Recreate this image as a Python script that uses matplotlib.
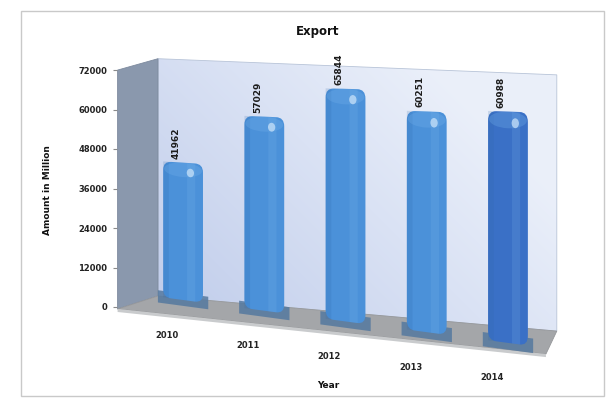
import numpy as np
import matplotlib
matplotlib.use("Agg")
import matplotlib.pyplot as plt
import matplotlib.transforms as mtransforms
from matplotlib.patches import FancyBboxPatch, Rectangle, Ellipse, Polygon

years = ["2010", "2011", "2012", "2013", "2014"]
amounts = [41962, 57029, 65844, 60251, 60988]
y_ticks = [0, 12000, 24000, 36000, 48000, 60000, 72000]

plt.rcParams["font.family"] = ["DejaVu Sans"]

W, H = 613, 399
X0, Y0 = 137.6, 105.0          # pivot of the bar plane, in pixels
XMIN, XMAX, YMAX = -0.56, 4.35, 72000


class Tilt(mtransforms.Transform):
    """Fake 3D: slopes the floor down to the right and lets columns grow with x."""
    input_dims = 2
    output_dims = 2

    def __init__(self, kx, ky, slope, grow):
        super().__init__()
        self.kx, self.ky, self.slope, self.grow = kx, ky, slope, grow

    def transform_non_affine(self, values):
        v = np.asarray(values, dtype=float)
        dx = v[:, 0] - X0
        dy = v[:, 1] - Y0
        out = np.empty_like(v)
        out[:, 0] = X0 + dx * self.kx
        out[:, 1] = Y0 + dy * self.ky * (1 + self.grow * dx) - self.slope * dx
        return out


fig = plt.figure(figsize=(W / 100, H / 100), dpi=100)
fig.patch.set_facecolor("white")

# pixel canvas for walls / floor / frame
bg = fig.add_axes([0, 0, 1, 1], zorder=0)
bg.set_xlim(0, W)
bg.set_ylim(0, H)
bg.axis("off")

ax = fig.add_axes([X0 / W, Y0 / H, 398.8 / W, 230.4 / H], zorder=1)
ax.set_xlim(XMIN, XMAX)
ax.set_ylim(0, YMAX)
ax.axis("off")

bar_tr = ax.transData + Tilt(1.0, 1.0, 0.132, 0.0005)
back_tr = ax.transData + Tilt(1.0, 1.03, 0.088, 0.0002) + mtransforms.Affine2D().translate(20.4, -2)
front_tr = ax.transData + Tilt(1.074, 1.037, 0.113, 0.0003) + mtransforms.Affine2D().translate(-20, -15)

# outer frame
bg.add_patch(Rectangle((21, 3), 583, 385, fill=False, ec="#c9c9c9", lw=1.0))

# back wall with a soft gradient
wall = back_tr.transform([[XMIN, 0], [XMAX, 0], [XMAX, YMAX], [XMIN, YMAX]])
gx, gy = np.meshgrid(np.linspace(0, 1, W), np.linspace(0, 1, H))
t = np.clip(0.75 * (gx - 0.25) / 0.65 + 0.45 * (gy - 0.2) / 0.6, 0, 1)[..., None]
c0 = np.array([0.75, 0.80, 0.92])
c1 = np.array([0.92, 0.94, 0.98])
img = bg.imshow(c0 * (1 - t) + c1 * t, extent=[0, W, 0, H], origin="lower",
                aspect="auto", zorder=1)
wall_patch = Polygon(wall, closed=True, fc="none", ec="#b8c4d8", lw=0.6, zorder=2)
bg.add_patch(wall_patch)
img.set_clip_path(wall_patch)

# left side wall
side = np.vstack([front_tr.transform([[XMIN, 0], [XMIN, YMAX]]),
                  back_tr.transform([[XMIN, YMAX], [XMIN, 0]])])
bg.add_patch(Polygon(side, closed=True, fc="#8a98ad", ec="#7d8a9e", lw=0.6, zorder=2))

# floor
floor = np.vstack([back_tr.transform([[XMIN, 0], [XMAX, 0]]),
                   front_tr.transform([[XMAX, 0], [XMIN, 0]])])
bg.add_patch(Polygon(floor, closed=True, fc="#a4a6a9", ec="#96989b", lw=0.6, zorder=2))
edge = front_tr.transform([[XMIN, 0], [XMAX, 0]])
bg.add_patch(Polygon(np.vstack([edge, edge[::-1] - [0, 3]]), closed=True,
                     fc="#c9cbcd", ec="none", zorder=2))

# columns
bw = 0.49
rad = 0.1
asp = (YMAX / 230.4) * 81.22
colors = ["#4b91d9", "#4b91d9", "#4b91d9", "#4b91d9", "#3a70c6"]
for i, v in enumerate(amounts):
    col = colors[i]
    plinth = Rectangle((i - 0.31, -1800), 0.62, 3800, transform=bar_tr,
                       fc="#55799f", ec="none", alpha=0.85, clip_on=False, zorder=2)
    ax.add_patch(plinth)
    body = FancyBboxPatch((i - bw / 2, 0), bw, v,
                          boxstyle=f"round,pad=0,rounding_size={rad}",
                          mutation_aspect=asp, transform=bar_tr,
                          fc=col, ec="none", clip_on=False, zorder=3)
    ax.add_patch(body)
    shades = [
        Rectangle((i - bw / 2, 0), 0.07, v, fc="#2f66a8", alpha=0.18),
        Rectangle((i + 0.05, 0), 0.1, v, fc="#8cc3f3", alpha=0.15),
        Ellipse((i, v - 2200), bw * 0.95, 4400, fc="#73b0ea", alpha=0.3),
        Ellipse((i + 0.09, v - 3000), 0.09, 2600, fc="#cfe6fb", alpha=0.7),
    ]
    for s in shades:
        s.set_transform(bar_tr)
        s.set_clip_on(False)
        s.set_zorder(4)
        ax.add_patch(s)
        s.set_clip_path(body)

    ax.text(i, v, str(v), rotation=90, ha="center", va="bottom",
            fontsize=6.5, fontweight="bold", color="#1c1c1c",
            transform=bar_tr + mtransforms.Affine2D().translate(-7, 4),
            clip_on=False, zorder=5)
    ax.text(i, 0, years[i], ha="center", va="center", fontsize=6,
            fontweight="bold", color="#222222",
            transform=bar_tr + mtransforms.Affine2D().translate(-16, -35),
            clip_on=False, zorder=5)

# value axis along the front edge of the side wall
tk = fig.add_axes([117 / W, 92 / H, 0.5 / W, 237 / H], zorder=2)
tk.set_ylim(0, YMAX)
tk.set_yticks(y_ticks)
tk.set_yticklabels([str(v) for v in y_ticks], fontsize=6, fontweight="bold", color="#222222")
tk.tick_params(axis="y", direction="out", length=3, width=0.8, color="#8a8a8a", pad=4)
tk.set_xticks([])
for sp in tk.spines.values():
    sp.set_visible(False)
tk.patch.set_visible(False)

fig.text(318 / W, 1 - 31 / H, "Export", ha="center", va="center",
         fontsize=8.5, fontweight="bold", color="#111111")
fig.text(48 / W, 1 - 190 / H, "Amount in Million", ha="center", va="center",
         rotation=90, fontsize=6.5, fontweight="bold", color="#111111")
fig.text(328 / W, 1 - 386 / H, "Year", ha="center", va="center",
         fontsize=6.5, fontweight="bold", color="#111111")

fig.savefig("out.png", dpi=100)
